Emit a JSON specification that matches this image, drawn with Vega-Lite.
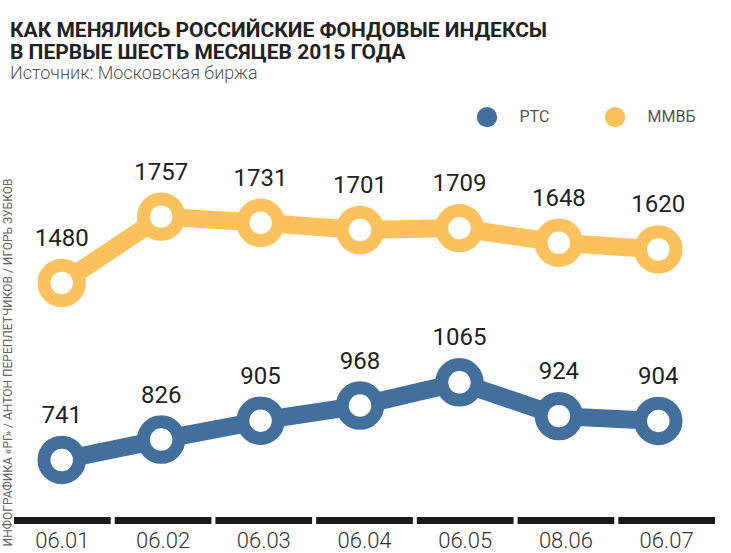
{
  "$schema": "https://vega.github.io/schema/vega-lite/v6.json",
  "width": 701,
  "height": 427,
  "autosize": {"type": "none"},
  "padding": {"left": 14, "top": 100, "right": 16, "bottom": 26},
  "background": "white",
  "config": {"font": "Roboto", "view": {"stroke": null}},
  "title": {
    "text": ["КАК МЕНЯЛИСЬ РОССИЙСКИЕ ФОНДОВЫЕ ИНДЕКСЫ", "В ПЕРВЫЕ ШЕСТЬ МЕСЯЦЕВ 2015 ГОДА"],
    "subtitle": "Источник: Московская биржа",
    "anchor": "start",
    "frame": "group",
    "fontSize": 21,
    "fontWeight": "bold",
    "color": "#222222",
    "lineHeight": 22,
    "subtitleFontSize": 18,
    "subtitleColor": "#555555",
    "subtitleFontWeight": 300,
    "subtitlePadding": 2,
    "offset": 17,
    "dx": -4
  },
  "datasets": {
    "dates": [
      {"date": "06.01"}, {"date": "06.02"}, {"date": "06.03"}, {"date": "06.04"},
      {"date": "06.05"}, {"date": "08.06"}, {"date": "06.07"}
    ],
    "idx": [
      {"date": "06.01", "series": "РТС", "value": 741},
      {"date": "06.02", "series": "РТС", "value": 826},
      {"date": "06.03", "series": "РТС", "value": 905},
      {"date": "06.04", "series": "РТС", "value": 968},
      {"date": "06.05", "series": "РТС", "value": 1065},
      {"date": "08.06", "series": "РТС", "value": 924},
      {"date": "06.07", "series": "РТС", "value": 904},
      {"date": "06.01", "series": "ММВБ", "value": 1480},
      {"date": "06.02", "series": "ММВБ", "value": 1757},
      {"date": "06.03", "series": "ММВБ", "value": 1731},
      {"date": "06.04", "series": "ММВБ", "value": 1701},
      {"date": "06.05", "series": "ММВБ", "value": 1709},
      {"date": "08.06", "series": "ММВБ", "value": 1648},
      {"date": "06.07", "series": "ММВБ", "value": 1620}
    ]
  },
  "layer": [
    {
      "data": {"name": "dates"},
      "mark": {"type": "rect", "color": "#1a1a1a"},
      "encoding": {
        "x": {
          "field": "date", "type": "nominal", "sort": null,
          "scale": {"type": "band", "paddingInner": 0.04, "paddingOuter": 0},
          "axis": {"orient": "bottom", "title": null, "domain": false, "ticks": false, "labelFontSize": 22, "labelFontWeight": 300, "labelColor": "#333333", "labelPadding": 3, "labelAngle": 0}
        },
        "y": {
          "datum": 503, "type": "quantitative",
          "scale": {"domain": [461, 2244], "nice": false, "zero": false},
          "axis": {"title": "ИНФОГРАФИКА «РГ» / АНТОН ПЕРЕПЛЕТЧИКОВ / ИГОРЬ ЗУБКОВ", "labels": false, "ticks": false, "domain": false, "grid": false, "titleFontSize": 12, "titleFontWeight": 400, "titleColor": "#666666", "titleX": -7, "titleY": 262, "titleAngle": 270, "titleAlign": "center", "titleBaseline": "middle"}
        },
        "y2": {"datum": 474}
      }
    },
    {
      "data": {"name": "idx"},
      "encoding": {
        "x": {
          "field": "date", "type": "nominal", "sort": null,
          "scale": {"type": "point", "padding": 0.525, "align": 0.457},
          "axis": null
        },
        "y": {
          "field": "value", "type": "quantitative",
          "scale": {"domain": [461, 2244], "nice": false, "zero": false},
          "axis": {"title": "ИНФОГРАФИКА «РГ» / АНТОН ПЕРЕПЛЕТЧИКОВ / ИГОРЬ ЗУБКОВ", "labels": false, "ticks": false, "domain": false, "grid": false, "titleFontSize": 12, "titleFontWeight": 400, "titleColor": "#666666", "titleX": -7, "titleY": 262, "titleAngle": 270, "titleAlign": "center", "titleBaseline": "middle"}
        },
        "color": {
          "field": "series", "type": "nominal",
          "scale": {"domain": ["РТС", "ММВБ"], "range": ["#436f9c", "#fbc15d"]}
        }
      },
      "layer": [
        {
          "mark": {"type": "line", "strokeWidth": 18},
          "encoding": {
            "color": {
              "field": "series", "type": "nominal",
              "scale": {"domain": ["РТС", "ММВБ"], "range": ["#436f9c", "#fbc15d"]},
              "legend": {"title": null, "orient": "none", "legendX": 462.5, "legendY": 6.5, "direction": "horizontal", "symbolType": "circle", "symbolSize": 415, "symbolStrokeWidth": 0, "labelFontSize": 16, "labelColor": "#555555", "labelOffset": 22, "columnPadding": 55, "padding": 0,
                "encode": {"symbols": {"update": {"fill": {"scale": "color", "field": "value"}, "opacity": {"value": 1}, "fillOpacity": {"value": 1}}}}}
            }
          }
        },
        {
          "mark": {"type": "point", "shape": "circle", "filled": false, "fill": "white", "fillOpacity": 1, "opacity": 1, "strokeWidth": 13, "size": 1257}
        },
        {
          "mark": {"type": "text", "dy": -44, "fontSize": 24, "color": "#222222", "baseline": "middle"},
          "encoding": {"text": {"field": "value", "type": "quantitative"}, "color": {"value": "#222222"}}
        }
      ]
    }
  ],
  "resolve": {"scale": {"x": "independent"}}
}
